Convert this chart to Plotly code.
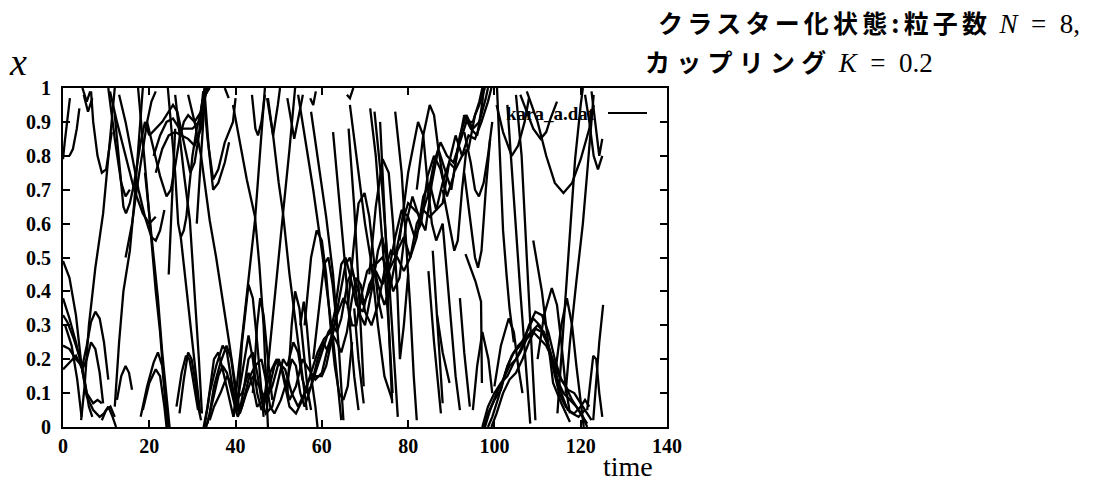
import plotly.graph_objects as go

# ---- data (time, x); None = gap (wrap-around / new piece) ----
B = None
p1 = [(0,0.49),(1.5,0.44),(3,0.33),(4.3,0.18),(5.5,0.09),(7,0.05),(8.5,0.03),(9.5,0.04),(10.5,0.06),(11.5,0.03),(12.3,0.0), B,
      (1.6,0.97),(0.9,0.9),(0.4,0.84),(0,0.79), B,
      (10.9,0.99),(12.5,0.9),(14.5,0.8),(16.5,0.7),(18.5,0.63),(20,0.6),(21.5,0.62), B,
      (20,0.86),(21.5,0.88),(23,0.9),(24.5,0.93),(25.5,0.95),(26.5,0.93),(27.5,0.87),(28.5,0.8),(29.5,0.75),(30.5,0.78),(31.5,0.86),(32.5,0.99), B,
      (32.6,0.0),(33.5,0.06),(35,0.2),(36,0.22),(37,0.17),(38.5,0.08),(39.5,0.03),(40.5,0.08),(42,0.2),(43,0.27),(44,0.2),(45,0.1),(46,0.05),(47.5,0.1),(49,0.18),(50,0.2),(51,0.16),(52.5,0.08),(54,0.12),(55.5,0.2),(57,0.17),(58.5,0.14),(60,0.16),(61.5,0.24),
      (62.6,0.28),(64,0.38),(65.5,0.48),(66.5,0.5),(67.5,0.44),(68.5,0.34),(70,0.3),(71.5,0.4),(73,0.52),(74,0.56),(75,0.5),(76.5,0.4),(78,0.44),(79.5,0.6),(81,0.68),(82.5,0.62),(84,0.58),(85.5,0.72),(87,0.82),(88.5,0.76),(90,0.7),(91.5,0.82),(93,0.92),(94.5,0.88),(96,0.86),(97,0.94),(97.6,1.0), B,
      (97.6,0.0),(98.5,0.04),(100,0.08),(101.5,0.11),(103,0.18),(104.5,0.22),(106,0.24),(107.5,0.28),(109,0.32),(110.5,0.3),(112,0.26),(113.5,0.18),(115,0.1),(116.5,0.06),(118,0.04),(119.5,0.03),(121,0.05), B,
      (29,0.98),(30.5,0.9),(32,0.8),(34,0.61),(35.5,0.5),(37,0.38),(38.5,0.25),(40,0.12),(41,0.04)]

p2 = [(0,0.38),(1.5,0.32),(3,0.25),(4.3,0.18),(5.5,0.1),(7,0.07),(8,0.08),(9,0.07), B,
      (12.5,0.08),(13.5,0.15),(14.5,0.18),(15.3,0.16),(16,0.11), B,
      (18,0.03),(19.5,0.12),(21,0.19),(22,0.22),(23,0.18),(24,0.05),(24.3,0.0), B,
      (24.3,1.0),(25,0.9),(26,0.75),(26.7,0.6),(27.3,0.56),(28,0.58),(28.6,0.62),(29.2,0.7),(30,0.8),(31,0.88),(32,0.93),(32.8,1.0), B,
      (32.8,0.0),(34,0.1),(35.5,0.18),(37,0.24),(38,0.22),(39,0.14),(40,0.06),(41,0.04),(42.5,0.1),(44,0.15),(45.5,0.12),(47,0.08),(48.5,0.12),(50,0.19),(51.5,0.17),(53,0.1),(54.5,0.06),(56,0.1),(57.5,0.16),(59,0.22),(60.5,0.26),
      (62,0.28),(63,0.34),(64.5,0.48),(65.5,0.5),(66.5,0.45),(68,0.36),(69.5,0.34),(71,0.42),(72.5,0.46),(74,0.42),(75.5,0.46),(77,0.56),(78.5,0.64),(80,0.62),(81.5,0.56),(83,0.6),(84.5,0.74),(86,0.8),(87.5,0.76),(89,0.68),(90.5,0.74),(92,0.86),(93.5,0.92),(95,0.88),(96.5,0.9),(98,0.97),(98.5,1.0), B,
      (98.5,0.0),(99.5,0.03),(101,0.09),(102.5,0.16),(104,0.21),(105.5,0.24),(107,0.26),(108.5,0.28),(110,0.3),(111.5,0.28),(113,0.22),(114.5,0.14),(116,0.1),(117.5,0.08),(119,0.06),(120.5,0.03),(121.5,0.01), B,
      (39.5,0.03),(41,0.2),(42.5,0.38),(44.5,0.61),(45.5,0.78),(46.4,0.95),(46.8,1.0)]

p3 = [(0,0.33),(1,0.31),(2.5,0.26),(4,0.2),(5,0.14),(6,0.06),(6.8,0.03), B,
      (4.2,0.02),(5,0.12),(6,0.3),(7.5,0.47),(9.3,0.63),(10.5,0.8),(11.5,0.93),(12,1.0), B,
      (26.3,0.06),(27.5,0.16),(28.5,0.21),(29.3,0.2),(30,0.15),(30.8,0.08),(31.3,0.05), B,
      (17.4,1.0),(18.5,0.85),(19.5,0.7),(20.5,0.55),(21.5,0.4),(22.5,0.28),(23.5,0.12),(24.5,0.0), B,
      (21,0.8),(22.5,0.86),(24,0.9),(25.5,0.91),(27,0.88),(28.5,0.88),(30,0.88),(31.5,0.9),(32.3,0.96),(33.2,1.0), B,
      (33.2,0.0),(34,0.04),(35,0.12),(36.5,0.19),(37.9,0.24),(39,0.2),(40,0.1),(41,0.05),(42,0.12),(43,0.2),(44,0.22),(45,0.16),(46,0.08),(47,0.04),(48.5,0.06),(50,0.15),(51,0.2),(52,0.18),(53.4,0.25),(54.5,0.22),(55.5,0.14),(56.5,0.1),(57.5,0.12),(59,0.2),(60.3,0.25),(61.5,0.22),
      (62.6,0.28),(63.5,0.33),(65,0.38),(66,0.36),(67,0.3),(68,0.3),(69,0.38),(70.5,0.46),(72,0.48),(73,0.42),(74.5,0.36),(76,0.42),(77.5,0.52),(79,0.56),(80.5,0.5),(82,0.56),(83.5,0.68),(85,0.72),(86.5,0.64),(88,0.66),(89.5,0.78),(91,0.86),(92.5,0.8),(94,0.82),(95.5,0.92),(96.5,0.95),(97.5,0.99),(97.8,1.0), B,
      (97.8,0.0),(99,0.05),(100.5,0.1),(102,0.14),(103.5,0.18),(105,0.2),(106.5,0.24),(108,0.3),(109.5,0.34),(111,0.33),(112.5,0.28),(114,0.2),(115.5,0.14),(117,0.11),(118.5,0.1),(120,0.07),(121.5,0.04),(122.5,0.02), B,
      (39.4,0.95),(41,0.84),(42.6,0.73),(44.5,0.62),(45.5,0.48),(46.5,0.3),(47.2,0.1),(47.5,0.0), B,
      (107.5,0.99),(110,0.9),(112,0.8),(114,0.72),(116,0.69),(118,0.72),(120,0.79),(122,0.88),(123,0.95)]

p4 = [(0,0.24),(1.5,0.23),(3,0.2),(4.5,0.18),(5.5,0.24),(6.5,0.31),(7.5,0.34),(8.5,0.32),(9.5,0.25),(10.5,0.14), B,
      (3.8,0.94),(3.2,0.88),(2.3,0.82),(1.5,0.8), B,
      (12,0.06),(13,0.25),(14,0.4),(15.5,0.52),(16.5,0.66),(17.5,0.82),(18.5,1.0), B,
      (13,0.98),(14.5,0.9),(16,0.8),(17.5,0.7),(19,0.62),(20.5,0.56),(21.5,0.55),(22.5,0.58),(23.5,0.64), B,
      (21.5,0.75),(23,0.82),(24.5,0.86),(26,0.87),(27.5,0.86),(29,0.85),(30.5,0.83),(32,0.88),(32.7,0.96),(33.5,1.0), B,
      (33.5,0.01),(34.8,0.08),(36,0.15),(37,0.18),(38,0.16),(39.5,0.08),(40.5,0.03),(41.5,0.06),(43,0.14),(44.5,0.18),(46,0.2),(47,0.14),(48,0.06),(49,0.04),(50.5,0.08),(52,0.14),(53,0.2),(54,0.18),(55,0.1),(56,0.06),(57,0.1),(58.5,0.16),(60,0.22),(61.5,0.28),
      (62.6,0.3),(63.5,0.28),(64.5,0.32),(66,0.43),(67,0.46),(68,0.42),(69.5,0.36),(71,0.4),(72.5,0.48),(74,0.5),(75.5,0.46),(77,0.5),(78.5,0.6),(80,0.66),(81.5,0.64),(83,0.62),(84.5,0.68),(86,0.78),(87.5,0.84),(89,0.8),(90.5,0.78),(92,0.84),(93.5,0.9),(95,0.9),(96.5,0.96),(97.2,1.0), B,
      (97.2,0.0),(98.5,0.06),(100,0.1),(101.5,0.13),(103,0.15),(104.5,0.19),(106,0.22),(107.5,0.26),(109,0.28),(110.5,0.26),(112,0.24),(113.5,0.2),(115,0.15),(116.5,0.12),(118,0.08),(119.5,0.05),(120.5,0.03),(121.5,0.0), B,
      (46.5,0.05),(48,0.25),(49.5,0.45),(51,0.63),(52.5,0.82),(53.5,0.97),(53.8,1.0), B,
      (106,0.98),(107.5,0.93),(109,0.88),(110.7,0.85),(112,0.87),(113,0.91),(114.5,0.96)]

p5 = [(0,0.17),(1.5,0.19),(3,0.21),(4.5,0.17),(5.5,0.2),(6.5,0.25),(7.5,0.23),(8.5,0.16),(9.3,0.07), B,
      (4.5,1.0),(5.5,0.96),(6.3,0.99), B,
      (4.8,0.98),(5.8,0.93),(6.8,0.97), B,
      (18.5,0.05),(20,0.13),(21.5,0.17),(22.5,0.15),(23.5,0.06),(24,0.0), B,
      (14.5,0.5),(16,0.6),(17.2,0.71),(18.5,0.82),(19.5,0.9),(20.5,0.96),(21.5,0.99), B,
      (19.5,0.9),(21,0.82),(22.5,0.74),(24,0.68),(25,0.7),(26,0.77),(27,0.85),(28,0.9),(29,0.92),(30.5,0.9),(32,0.93),(33,0.98),(34,1.0), B,
      (34,0.02),(35,0.06),(36.5,0.1),(38,0.15),(39,0.13),(40,0.08),(41.5,0.1),(43,0.16),(44,0.12),(45,0.06),(46.5,0.08),(48,0.16),(49.5,0.2),(50.5,0.18),(51.5,0.12),(52.5,0.06),(54,0.04),(55.5,0.08),(57,0.14),(58.5,0.15),(60,0.15),(61,0.18),(62,0.24),
      (62.6,0.27),(63.5,0.25),(64.5,0.22),(65.8,0.28),(67,0.38),(68,0.44),(69,0.42),(70,0.34),(71.5,0.3),(73,0.36),(74.5,0.46),(76,0.52),(77.5,0.5),(79,0.46),(80.5,0.5),(82,0.6),(83.5,0.64),(85,0.62),(86.5,0.64),(88,0.72),(89.5,0.78),(91,0.76),(92.5,0.8),(94,0.86),(95.5,0.85),(97,0.9),(98.5,0.96),(99.3,1.0), B,
      (99.3,0.0),(100.5,0.04),(102,0.1),(103.5,0.14),(105,0.16),(106.5,0.2),(108,0.25),(109.5,0.29),(111,0.28),(112.5,0.24),(114,0.17),(115.5,0.1),(117,0.05),(118.5,0.04),(120,0.06),(121,0.08),(122,0.06), B,
      (47.5,0.97),(48.7,0.86),(50,0.72),(51,0.63),(52.5,0.45),(54,0.3),(55.5,0.15),(56.5,0.05), B,
      (100.5,0.95),(102,0.87),(104,0.8),(105.5,0.83),(107,0.9),(108,0.97)]

p6 = [(0.5,0.3),(2,0.24),(3.3,0.14),(4,0.05),(4.3,0.03), B,
      (6.5,0.99),(7,0.9),(8,0.8),(9,0.75),(10,0.76),(10.8,0.82),(11.3,0.87), B,
      (9,0.02),(10,0.05),(11,0.06),(12,0.03), B,
      (27,0.04),(28,0.14),(29,0.22),(29.8,0.2),(30.6,0.14),(31.5,0.05),(32,0.02), B,
      (19,0.75),(20,0.62),(21,0.5),(22,0.38),(23,0.22),(24,0.08),(24.7,0.0), B,
      (26,0.98),(27,0.86),(28,0.75),(29.4,0.61),(30.5,0.4),(31.5,0.2),(32.2,0.04), B,
      (32.5,0.99),(33.5,0.85),(34.8,0.73),(36,0.76),(37.5,0.84),(39.4,0.9),(40,0.97), B,
      (40.5,0.05),(41.5,0.25),(43,0.42),(44,0.38),(45,0.25),(46,0.1),(46.5,0.03), B,
      (44,0.1),(45,0.3),(45.7,0.38),(46.5,0.33),(47.5,0.2),(48.5,0.08), B,
      (57.5,0.93),(59,0.8),(61,0.62),(62.6,0.45),(64,0.22),(65,0.02), B,
      (56,0.3),(57.5,0.5),(58.8,0.58),(60,0.55),(61,0.45),(62,0.3),(63,0.18),(64,0.1),(65,0.08),(66,0.12),(67,0.25), B,
      (66,0.35),(67.5,0.55),(68.5,0.66),(69.9,0.69),(71,0.62),(72,0.5),(73,0.38),(74,0.32), B,
      (73.5,0.9),(74.3,0.7),(75,0.51),(75.5,0.3),(76.3,0.07), B,
      (84.7,0.46),(86,0.25),(87.6,0.04), B,
      (93,0.87),(94.5,0.78),(95.5,0.7),(96.4,0.68),(97.5,0.72),(98.5,0.8),(99.5,0.9), B,
      (114.6,0.04),(116,0.3),(117.2,0.51),(118.7,0.79),(120,0.95),(120.5,1.0), B,
      (110,0.2),(111.5,0.33),(113.3,0.41),(114.5,0.36),(115.5,0.25),(116.5,0.12),(117.5,0.04)]

p7 = [(10.5,1.0),(12,0.85),(13.5,0.72),(14.5,0.68),(15.5,0.7), B,
      (12,0.92),(13,0.78),(14,0.65),(14.6,0.63),(15.5,0.66),(16.5,0.72),(18,0.84),(19,0.9),(20,0.86), B,
      (27.3,0.56),(28.5,0.42),(29.5,0.3),(30.5,0.18),(31.3,0.08),(31.8,0.04), B,
      (32.8,0.99),(33.8,0.82),(34.8,0.7),(36,0.72),(37.5,0.78),(38.5,0.84), B,
      (31,0.6),(31.8,0.75),(32.5,0.9),(32.9,1.0), B,
      (52,0.1),(53,0.3),(53.8,0.4),(54.8,0.35),(55.8,0.22),(56.8,0.1),(57.5,0.05), B,
      (55,0.3),(55.8,0.37),(56.5,0.3),(57.5,0.15),(58.5,0.06),(59,0.0), B,
      (54.5,0.98),(56,0.86),(58,0.7),(60,0.52),(62.6,0.26),(63.5,0.15),(64.5,0.02), B,
      (62.6,0.87),(64,0.68),(65.3,0.49),(66.5,0.3),(67.5,0.15),(68.5,0.05), B,
      (58,0.2),(59.5,0.38),(60.5,0.48),(61.5,0.5),(62.5,0.42),(63.5,0.3), B,
      (71,0.45),(72.5,0.65),(74.1,0.79),(75.5,0.75),(76.5,0.6),(77.5,0.4),(78.1,0.2),(79,0.3),(80,0.45), B,
      (78,0.55),(80,0.75),(82.3,0.9),(83.5,0.86),(84.5,0.72),(85.5,0.6),(86.5,0.55),(88,0.6), B,
      (77,0.93),(78.5,0.75),(79.7,0.51),(80.5,0.35),(81.3,0.15),(82,0.02), B,
      (85.7,0.52),(86.8,0.3),(88,0.07), B,
      (67.5,0.35),(68.5,0.2),(69.7,0.07), B,
      (92,0.38),(93,0.22),(94.3,0.06), B,
      (95,0.05),(96,0.18),(97.2,0.28),(98.6,0.2),(99.5,0.1), B,
      (121,0.98),(122,0.9),(123,0.8),(124,0.76),(125,0.8), B,
      (122.9,0.02),(123.5,0.12),(124.3,0.25),(125.2,0.36), B,
      (114,0.15),(115.5,0.3),(116.8,0.38),(118,0.3),(119,0.18),(120,0.08),(120.7,0.0), B,
      (47.3,0.97),(48.7,0.86),(49.8,0.95),(50.3,1.0)]

p8 = [(24.5,0.45),(25,0.6),(25.5,0.75),(26,0.88), B,
      (66.2,0.88),(67.5,0.65),(68.5,0.42),(69.7,0.12), B,
      (66.5,0.95),(68.5,0.75),(70,0.6),(71.4,0.49),(73,0.3),(74.5,0.15),(76.3,0.08), B,
      (71.2,0.94),(72.5,0.8),(74,0.55),(75.5,0.3),(76.4,0.1), B,
      (72.2,0.93),(74,0.7),(75.5,0.45),(76.5,0.25),(77.6,0.03), B,
      (82,0.7),(83.5,0.86),(85,0.95),(86,0.92),(87,0.82),(88.5,0.7), B,
      (88,0.7),(89.5,0.6),(90.7,0.52),(91.5,0.55),(92.5,0.7),(93.5,0.82), B,
      (93,0.75),(94.5,0.6),(95.5,0.5),(96.2,0.47),(97,0.52),(98,0.7),(99,0.85), B,
      (86.7,0.33),(88,0.22),(89.6,0.13), B,
      (88,0.6),(89,0.45),(90,0.3),(91,0.15),(92,0.05), B,
      (93.3,0.51),(95.6,0.43),(96.9,0.37),(97.1,0.13), B,
      (100.6,1.0),(101.3,0.8),(102,0.58),(102.8,0.45),(103.5,0.35),(104.5,0.25), B,
      (103,0.95),(104.8,0.61),(106,0.4),(107.3,0.18),(108.3,0.01), B,
      (105,0.98),(106.3,0.8),(107.5,0.5),(108.5,0.25),(109.5,0.02), B,
      (122.5,0.99),(123.5,0.88),(124.3,0.8),(125,0.85), B,
      (121.5,0.05),(122.3,0.15),(122.9,0.21),(123.6,0.2),(124.3,0.1),(125,0.03), B,
      (100,0.12),(101.5,0.24),(103.3,0.32),(104.5,0.28),(105.5,0.18),(106.5,0.1), B,
      (109,0.55),(111,0.4),(113.6,0.13),(115.5,0.07),(117.5,0.015), B,
      (116.5,0.1),(117.5,0.25),(119,0.43),(120.5,0.6),(121.5,0.75),(122.5,0.9),(123,0.98), B,
      (52,0.97),(53.6,0.85),(55.6,0.98), B,
      (43.8,0.98),(44.6,0.88),(45.2,0.86),(46,0.9),(46.8,0.98), B,
      (57.3,0.97),(58,0.95),(58.6,0.99), B,
      (65.8,0.98),(66.5,0.97),(67.3,1.0), B,
      (37.5,1.0),(38.4,0.97)]

particles = [p1, p2, p3, p4, p5, p6, p7, p8]

x_ticks = [0, 20, 40, 60, 80, 100, 120, 140]
y_ticks = [0, 0.1, 0.2, 0.3, 0.4, 0.5, 0.6, 0.7, 0.8, 0.9, 1]
y_tick_text = ["0", "0.1", "0.2", "0.3", "0.4", "0.5", "0.6", "0.7", "0.8", "0.9", "1"]
legend_label = "kara_a.dat"

# ---- figure (page body has an 8px margin, so everything is shifted by OFF) ----
OFF = 8
W, H = 1098 - OFF, 484 - OFF
L, R, T, Bm = 63 - OFF, 667 - OFF, 88 - OFF, 427 - OFF
fig = go.Figure()
for p in particles:
    ts = [q[0] if q is not None else None for q in p]
    xs = [q[1] if q is not None else None for q in p]
    fig.add_trace(go.Scatter(x=ts, y=xs, mode="lines", connectgaps=False,
                             line=dict(color="black", width=2.3), showlegend=False,
                             hoverinfo="skip"))

def px(xp):
    return (xp - OFF - L) / (R - L)

def py(yp):
    return (Bm - (yp - OFF)) / (Bm - T)

serif = "Liberation Serif"
axis_common = dict(showline=True, linecolor="black", linewidth=2, mirror="ticks",
                   ticks="inside", ticklen=7, tickwidth=1.5, tickcolor="black",
                   showgrid=False, zeroline=False, automargin=False,
                   tickfont=dict(family=serif, size=20, color="black", weight="bold"))
fig.update_xaxes(range=[0, 140], tickvals=x_ticks, ticktext=[str(v) for v in x_ticks],
                 ticklabelstandoff=0, **axis_common)
fig.update_yaxes(range=[0, 1], tickvals=y_ticks, ticktext=y_tick_text,
                 ticklabelstandoff=6, **axis_common)

sp1 = "\u2006"
sp2 = "\u2005"
line1_jp = sp1.join("クラスター化状態:粒子数")
line2_jp = sp2.join("カップリング")
ann = []
ann.append(dict(x=px(1082), y=py(22), xref="paper", yref="paper", xanchor="right", yanchor="middle",
                showarrow=False,
                text="<b>" + line1_jp + "</b>\u2002<span style='font-family:Liberation Serif;font-size:27px'><i>N</i>\u2002=\u20028,</span>",
                font=dict(family="Noto Sans CJK JP", size=25, color="black")))
ann.append(dict(x=px(643), y=py(61), xref="paper", yref="paper", xanchor="left", yanchor="middle",
                showarrow=False,
                text="<b>" + line2_jp + "</b>\u2002<span style='font-family:Liberation Serif;font-size:27px'><i>K</i>\u2002=\u20020.2</span>",
                font=dict(family="Noto Sans CJK JP", size=25, color="black")))
ann.append(dict(x=px(18), y=py(62), xref="paper", yref="paper", xanchor="center", yanchor="middle",
                showarrow=False, text="<i>x</i>",
                font=dict(family=serif, size=38, color="black")))
ann.append(dict(x=px(628), y=py(467), xref="paper", yref="paper", xanchor="center", yanchor="middle",
                showarrow=False, text="time",
                font=dict(family=serif, size=28, color="black")))
ann.append(dict(x=px(597), y=py(113), xref="paper", yref="paper", xanchor="right", yanchor="middle",
                showarrow=False, text=legend_label,
                font=dict(family=serif, size=19, color="black", weight="bold")))
fig.add_shape(type="line", xref="paper", yref="paper", x0=px(608), x1=px(647), y0=py(113), y1=py(113),
              line=dict(color="black", width=2))

fig.update_layout(width=W, height=H, margin=dict(l=L, r=W - R, t=T, b=H - Bm),
                  paper_bgcolor="white", plot_bgcolor="white", annotations=ann,
                  showlegend=False, hovermode=False)
fig.write_html("out.html", config={"displayModeBar": False})
